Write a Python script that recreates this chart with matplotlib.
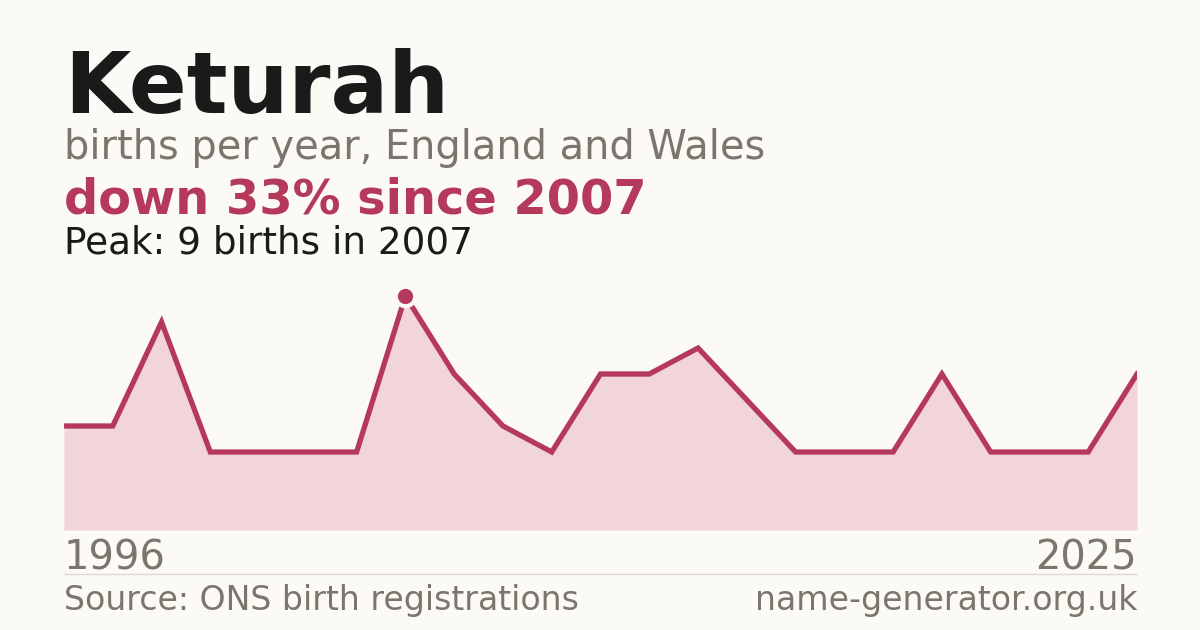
#!/usr/bin/env python3

import matplotlib.pyplot as plt

# data: births per registered year (years with too few births are not listed)
years = [1996, 1997, 1998, 1999, 2001, 2003, 2005, 2007,
         2008, 2009, 2010, 2011, 2012, 2013, 2014, 2016,
         2017, 2018, 2019, 2021, 2022, 2024, 2025]
births = [4, 4, 8, 3, 3, 3, 3, 9,
          6, 4, 3, 6, 6, 7, 5, 3,
          3, 3, 6, 3, 3, 3, 6]

bg = "#fbfaf5"
red = "#b5395a"
fill = "#f2d5da"
grey = "#7a756d"
dark = "#1a1a1a"

W, H = 1200, 630
fig = plt.figure(figsize=(W / 100, H / 100), dpi=100, facecolor=bg)

def px(x, y):
    return x / W, 1 - y / H

# chart area
ax = fig.add_axes([64 / W, (H - 530) / H, 1073 / W, 250 / H])
ax.set_facecolor(bg)
idx = list(range(len(years)))
ax.fill_between(idx, births, 0, color=fill, lw=0)
ax.plot(idx, births, color=red, lw=3.8, solid_joinstyle="miter")
peak = births.index(max(births))
ax.plot(idx[peak], births[peak], "o", ms=14, color=red, mec=bg, mew=3)
ax.set_xlim(0, len(years) - 1)
ax.set_ylim(0, 250 / 26)
ax.axis("off")

# headings
fig.text(*px(64, 113), "Keturah", fontsize=61.6, fontweight="bold", color=dark)
fig.text(*px(64, 159), "births per year, England and Wales", fontsize=28.7, color=grey)
first_peak = years[peak]
change = round((births[-1] - births[peak]) / births[peak] * 100)
fig.text(*px(64, 214), f"down {abs(change)}% since {first_peak}", fontsize=34.5,
         fontweight="bold", color=red)
fig.text(*px(64, 253), f"Peak: {births[peak]} births in {first_peak}", fontsize=26.9, color=dark)

# axis end labels
fig.text(*px(64, 570), str(years[0]), fontsize=28.8, color=grey)
fig.text(*px(1137, 570), str(years[-1]), fontsize=28.8, color=grey, ha="right")

# footer
fig.add_artist(plt.Line2D([64 / W, 1137 / W], [1 - 574 / H] * 2, color="#ddd8d0", lw=1))
fig.text(*px(64, 610), "Source: ONS birth registrations", fontsize=23.9, color=grey)
fig.text(*px(1137, 610), "name-generator.org.uk", fontsize=23.9, color=grey, ha="right")

fig.savefig("out.png", dpi=100, facecolor=bg)
